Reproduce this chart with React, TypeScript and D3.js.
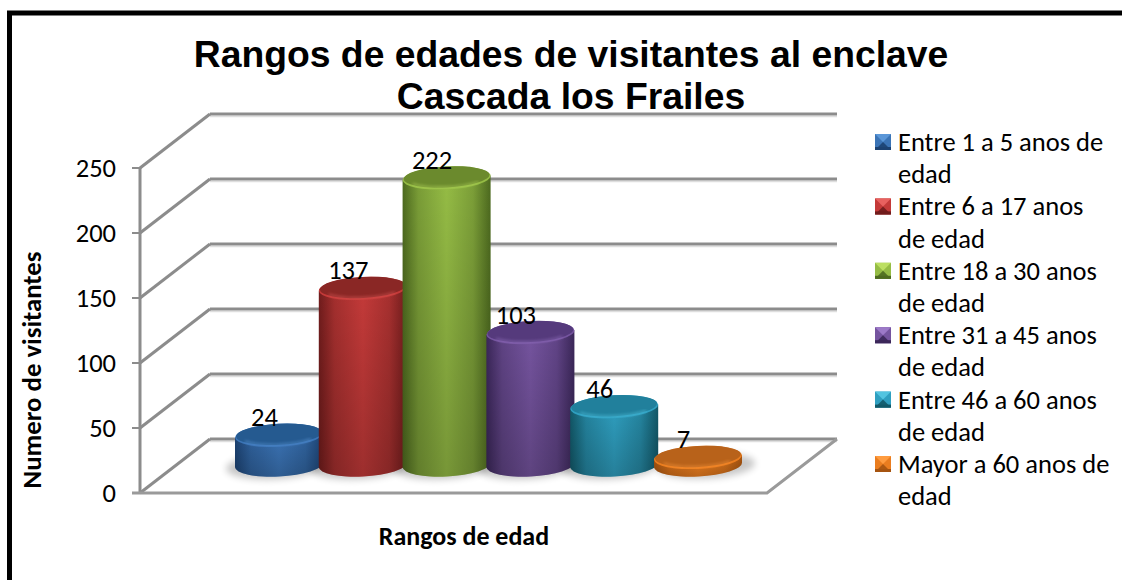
import React from "react";
import * as d3 from "d3";

const titleLines = ["Rangos de edades de visitantes al enclave", "Cascada los Frailes"];
const categories = ["Entre 1 a 5 anos de edad", "Entre 6 a 17 anos de edad", "Entre 18 a 30 anos de edad", "Entre 31 a 45 anos de edad", "Entre 46 a 60 anos de edad", "Mayor a 60 anos de edad"];
const legendLines = [["Entre 1 a 5 anos de", "edad"], ["Entre 6 a 17 anos", "de edad"], ["Entre 18 a 30 anos", "de edad"], ["Entre 31 a 45 anos", "de edad"], ["Entre 46 a 60 anos", "de edad"], ["Mayor a 60 anos de", "edad"]];
const values = [24, 137, 222, 103, 46, 7];
const yTicks = [0, 50, 100, 150, 200, 250];
const xTitle = "Rangos de edad";
const yTitle = "Numero de visitantes";
const lightColors = ["#3b74b6", "#c43a39", "#95bc45", "#75549f", "#2f9fc0", "#ea7d1f"];
const darkColors = ["#1c4272", "#701c1c", "#4d6a1f", "#3b2759", "#125868", "#a65410"];
const topColors = ["#255a90", "#8a2725", "#6b8a2d", "#553a7c", "#21809c", "#b8621a"];
const rimColors = ["#5b97d8", "#e8615f", "#bcdf62", "#9c79c8", "#52c4e0", "#ff9c40"];

const font = "Carlito, Lato, 'Open Sans', sans-serif";
const W = 1122, H = 580;
const y = d3.scaleLinear().domain([0, 250]).range([493, 168]);
const depthX = 70, depthY = -54;
const x0 = 140, xRight = 767;
const x = d3.scalePoint<string>().domain(categories).range([279, 698]);
const rx = 44, ry = 11.5, tiltDeg = -3;
const dyTilt = rx * Math.sin((tiltDeg * Math.PI) / 180);
const baseOffset = 28;
const topOffset = 26.5;

function bodyPath(cx: number, top: number, base: number) {
  return `M${cx - rx},${top - dyTilt} L${cx - rx},${base - dyTilt} A${rx},${ry} ${tiltDeg} 0 0 ${cx + rx},${base + dyTilt} L${cx + rx},${top + dyTilt} Z`;
}

export default function App() {
  return (
    <svg width={W} height={H} style={{ position: "absolute", left: 0, top: 0, background: "#fff" }}>
      <defs>
        <filter id="blur" x="-30%" y="-80%" width="160%" height="260%"><feGaussianBlur stdDeviation="3.5" /></filter>
        <filter id="soft" x="-10%" y="-30%" width="120%" height="160%"><feGaussianBlur stdDeviation="1.4" /></filter>
        <linearGradient id="shade" x1="0" y1="0" x2="0" y2="1">
          <stop offset="0" stopColor="#000" stopOpacity="0" />
          <stop offset="1" stopColor="#000" stopOpacity="0.2" />
        </linearGradient>
        {values.map((_, i) => (
          <linearGradient key={i} id={`body${i}`} x1="0" y1="0" x2="1" y2="0">
            <stop offset="0" stopColor={darkColors[i]} />
            <stop offset="0.18" stopColor={d3.interpolateRgb(darkColors[i], lightColors[i])(0.62)} />
            <stop offset="0.5" stopColor={lightColors[i]} />
            <stop offset="0.8" stopColor={d3.interpolateRgb(darkColors[i], lightColors[i])(0.65)} />
            <stop offset="1" stopColor={darkColors[i]} />
          </linearGradient>
        ))}
      </defs>

      {/* frame */}
      <path d={`M9.5,${H} L9.5,13 L${W},13`} fill="none" stroke="#000" strokeWidth={5} />

      {/* title */}
      {titleLines.map((t, i) => (
        <text key={t} x={571} y={67 + i * 42} textAnchor="middle" fontFamily="'Liberation Sans', Arial, sans-serif" fontWeight="bold" fontSize={37.3} fill="#000">{t}</text>
      ))}

      {/* back wall gridlines */}
      {yTicks.map(t => (
        <g key={t}>
          <line x1={x0 + depthX} x2={xRight + depthX} y1={y(t) + depthY + 2.5} y2={y(t) + depthY + 2.5} stroke="#dedede" strokeWidth={1.5} />
          <line x1={x0 + depthX} x2={xRight + depthX} y1={y(t) + depthY} y2={y(t) + depthY} stroke="#8c8c8c" strokeWidth={3} />
          <line x1={x0} x2={x0 + depthX} y1={y(t)} y2={y(t) + depthY} stroke="#8c8c8c" strokeWidth={3} />
          <line x1={x0 - 8} x2={x0} y1={y(t)} y2={y(t)} stroke="#8c8c8c" strokeWidth={2} />
          <text x={116} y={y(t) + 9} textAnchor="end" fontFamily={font} fontSize={26.5} fill="#000">{t}</text>
        </g>
      ))}
      {/* axis and floor */}
      <line x1={x0} x2={x0} y1={y(250)} y2={y(0) + 1} stroke="#8c8c8c" strokeWidth={3} />
      <path d={`M${x0 - 8},${y(0)} L${xRight},${y(0)} L${xRight + depthX},${y(0) + depthY}`} fill="none" stroke="#9a9a9a" strokeWidth={3} />

      {/* shadows */}
      {values.map((v, i) => {
        const cx = x(categories[i])!;
        return <ellipse key={i} cx={cx + (i === 5 ? 8 : -4)} cy={y(0) - baseOffset + 1} rx={rx + 5} ry={ry + 1.5} transform={`rotate(${tiltDeg} ${cx} ${y(0) - baseOffset})`} fill="#000" opacity={0.22} filter="url(#blur)" />;
      })}

      {/* cylinders */}
      {values.map((v, i) => {
        const cx = x(categories[i])!;
        const top = y(v) - topOffset;
        const base = y(0) - baseOffset;
        const d = bodyPath(cx, top, base);
        const rot = `rotate(${tiltDeg} ${cx} ${top})`;
        return (
          <g key={i}>
            <path d={d} fill={`url(#body${i})`} />
            <path d={d} fill="url(#shade)" />
            <ellipse cx={cx} cy={top} rx={rx} ry={ry} transform={rot} fill={lightColors[i]} />
            <ellipse cx={cx} cy={top - 1} rx={rx - 1} ry={ry - 1} transform={rot} fill={topColors[i]} />
            <path d={`M${cx - rx + 10},${top + 6} A${rx - 3},${ry - 1} ${tiltDeg} 0 0 ${cx + rx - 12},${top + 4}`} fill="none" stroke={rimColors[i]} strokeWidth={1.5} opacity={0.8} filter="url(#soft)" />
          </g>
        );
      })}

      {/* data labels */}
      {values.map((v, i) => (
        <text key={i} x={x(categories[i])! - 14.5} y={y(v) - topOffset - 9} textAnchor="middle" fontFamily={font} fontSize={26.5} fill="#000">{v}</text>
      ))}

      {/* axis titles */}
      <text x={464} y={545} textAnchor="middle" fontFamily={font} fontWeight="bold" fontSize={26.5 * 0.98} fill="#000">{xTitle}</text>
      <text transform="translate(41,370) rotate(-90)" textAnchor="middle" fontFamily={font} fontWeight="bold" fontSize={26.8} fill="#000">{yTitle}</text>

      {/* legend */}
      {categories.map((c, i) => {
        const row = 142 + i * 64.4;
        const s = 16, mx = 875, my = row - 8;
        const cxm = mx + s / 2, cym = my + s / 2;
        return (
          <g key={c}>
            <rect x={mx} y={my} width={s} height={s} fill={lightColors[i]} />
            <polygon points={`${mx},${my} ${mx + s},${my} ${cxm},${cym}`} fill={rimColors[i]} />
            <polygon points={`${mx},${my + s} ${mx + s},${my + s} ${cxm},${cym}`} fill={darkColors[i]} opacity={0.9} />
            <rect x={mx} y={my + s - 3} width={s} height={3} fill={darkColors[i]} />
            {legendLines[i].map((l, j) => (
              <text key={j} x={898} y={row + 9 + j * 32.2} fontFamily={font} fontSize={26.5} fill="#000">{l}</text>
            ))}
          </g>
        );
      })}
    </svg>
  );
}
